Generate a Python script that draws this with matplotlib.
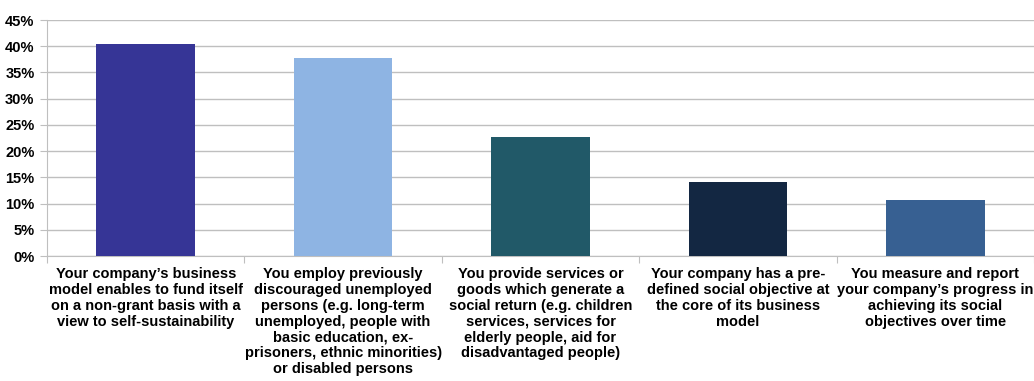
import matplotlib.pyplot as plt
import numpy as np
from matplotlib.ticker import FuncFormatter

plt.rcParams['font.family'] = ['Liberation Sans', 'DejaVu Sans']
plt.rcParams['font.weight'] = 'bold'

categorie = [
    "Your company\u2019s business\nmodel enables to fund itself\non a non-grant basis with a\nview to self-sustainability",
    "You employ previously\ndiscouraged unemployed\npersons (e.g. long-term\nunemployed, people with\nbasic education, ex-\nprisoners, ethnic minorities)\nor disabled persons",
    "You provide services or\ngoods which generate a\nsocial return (e.g. children\nservices, services for\nelderly people, aid for\ndisadvantaged people)",
    "Your company has a pre-\ndefined social objective at\nthe core of its business\nmodel",
    "You measure and report\nyour company\u2019s progress in\nachieving its social\nobjectives over time",
]
valori = [40.4, 37.8, 22.7, 14.1, 10.7]
colori = ['#363596', '#8EB4E3', '#215968', '#132742', '#376092']

fig = plt.figure(figsize=(10.34, 3.81), dpi=100)
ax = fig.add_axes([47/1034, 1 - 256/381, 1 - 47/1034, 236/381])

x = np.arange(len(valori))
ax.bar(x, valori, width=0.5, color=colori, zorder=3)

ax.set_xlim(-0.5, len(valori) - 0.5)
ax.set_ylim(0, 45)
ax.set_yticks(np.arange(0, 46, 5))
ax.yaxis.set_major_formatter(FuncFormatter(lambda v, p: '%d%%' % v))
ax.grid(axis='y', color='#BFBFBF', linewidth=1, zorder=0)

# tick marks between categories, labels centred under bars
ax.set_xticks(np.arange(-0.5, len(valori)), minor=False)
ax.set_xticklabels([])
ax.set_xticks(x, minor=True)
ax.set_xticklabels(categorie, minor=True, fontsize=10.5, fontweight='bold',
                   linespacing=1.17, va='top')
ax.tick_params(axis='x', which='minor', length=0, pad=8)
ax.tick_params(axis='x', which='major', length=5, color='#BFBFBF')
ax.tick_params(axis='y', length=5, color='#BFBFBF', labelsize=10.5, pad=4)

for s in ['top', 'right']:
    ax.spines[s].set_visible(False)
for s in ['left', 'bottom']:
    ax.spines[s].set_color('#BFBFBF')

fig.savefig('out.png', dpi=100)
